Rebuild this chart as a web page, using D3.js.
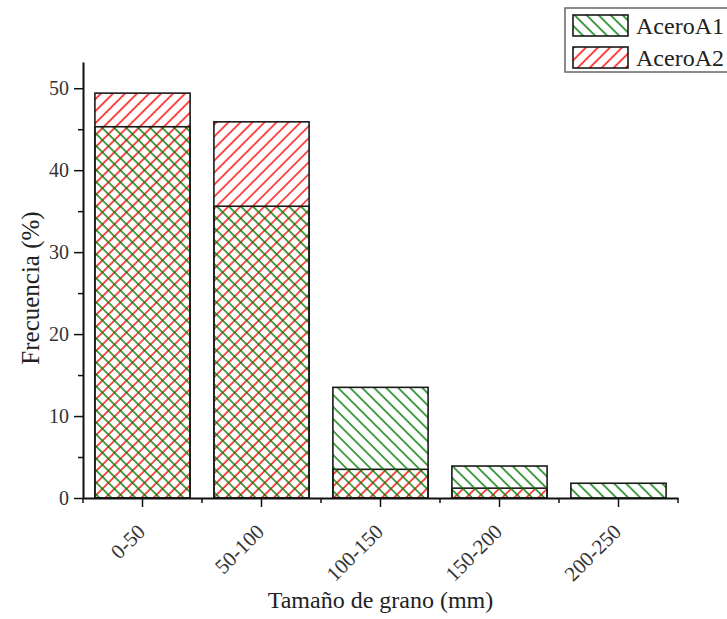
<!DOCTYPE html>
<html>
<head>
<meta charset="utf-8">
<script src="https://cdn.jsdelivr.net/npm/d3@7"></script>
</head>
<body style="margin:0; background:#fff">
<script>
    //data
    var categories = ["0-50", "50-100", "100-150", "150-200", "200-250"];
    var aceroA1 = [45.3, 35.6, 13.5, 3.9, 1.8];
    var aceroA2 = [49.4, 45.9, 3.5, 1.2, 0];
    var seriesNames = ["AceroA1", "AceroA2"];
    var yMajorTicks = [0, 10, 20, 30, 40, 50];
    var yMinorTicks = [5, 15, 25, 35, 45];

    var width = 727;
    var height = 619;
    var serif = "'Liberation Serif', serif";

    var margin = {
        left: 83,
        right: 49,
        top: 62,
        bottom: 121
    };
    var innerW = width - margin.left - margin.right;
    var innerH = height - margin.top - margin.bottom;

    //scales
    var xScale = d3.scaleBand()
        .domain(categories)
        .range([0, innerW])
        .paddingInner(0.2)
        .paddingOuter(0.1);

    var yScale = d3.scaleLinear()
        .domain([0, 53.2])
        .range([innerH, 0]);

    var svg = d3.select("body")
        .append("svg")
        .attr("width", width)
        .attr("height", height)
        .style("display", "block");

    //hatch patterns
    var defs = svg.append("defs");
    function hatch(id, color, angle) {
        var p = defs.append("pattern")
            .attr("id", id)
            .attr("patternUnits", "userSpaceOnUse")
            .attr("width", 8.5)
            .attr("height", 8.5)
            .attr("patternTransform", "rotate(" + angle + ")");
        p.append("line")
            .attr("x1", 1).attr("y1", -1)
            .attr("x2", 1).attr("y2", 9.5)
            .attr("stroke", color)
            .attr("stroke-width", 1.4);
    }
    hatch("hatchA1", "#007a00", -45);
    hatch("hatchA2", "#ff0000", 45);

    var chartGroup = svg.append("g")
        .attr("transform", "translate(" + margin.left + "," + margin.top + ")");

    //bars, both series overlaid in the same slot
    var series = [
        { name: "AceroA2", values: aceroA2, fill: "url(#hatchA2)" },
        { name: "AceroA1", values: aceroA1, fill: "url(#hatchA1)" }
    ];

    series.forEach(function (s) {
        chartGroup.append("g")
            .selectAll("rect")
            .data(s.values)
            .enter()
            .append("rect")
            .filter(function (d) { return d > 0; })
            .attr("x", function (d, i) { return xScale(categories[i]); })
            .attr("y", function (d) { return yScale(d); })
            .attr("width", xScale.bandwidth())
            .attr("height", function (d) { return innerH - yScale(d); })
            .attr("fill", s.fill)
            .attr("stroke", "#1a1a1a")
            .attr("stroke-width", 1.6);
    });

    //y axis
    var yAxis = d3.axisLeft(yScale)
        .tickValues(yMajorTicks)
        .tickSize(9)
        .tickPadding(5)
        .tickSizeOuter(0);

    var yG = chartGroup.append("g")
        .attr("class", "axis y")
        .call(yAxis);
    yG.selectAll("text")
        .style("font-family", serif)
        .style("font-size", "20px")
        .attr("fill", "#333");

    chartGroup.append("g")
        .call(d3.axisLeft(yScale).tickValues(yMinorTicks).tickSize(5).tickFormat("").tickSizeOuter(0))
        .select(".domain").remove();

    //x axis
    var xAxis = d3.axisBottom(xScale)
        .tickSize(9)
        .tickSizeOuter(0)
        .tickFormat("");

    var xG = chartGroup.append("g")
        .attr("class", "axis x")
        .attr("transform", "translate(0," + innerH + ")")
        .call(xAxis);

    //minor ticks at category boundaries
    var bounds = [0].concat(categories.map(function (c) {
        return xScale(c) + xScale.bandwidth() + xScale.step() * 0.1;
    }));
    xG.selectAll("line.minor")
        .data(bounds)
        .enter()
        .append("line")
        .attr("class", "minor")
        .attr("x1", function (d) { return d; })
        .attr("x2", function (d) { return d; })
        .attr("y1", 0)
        .attr("y2", 5)
        .attr("stroke", "#111");

    //rotated category labels
    chartGroup.append("g")
        .selectAll("text")
        .data(categories)
        .enter()
        .append("text")
        .attr("transform", function (d) {
            return "translate(" + (xScale(d) + xScale.bandwidth() / 2 + 4) + "," + (innerH + 35) + ") rotate(-45)";
        })
        .attr("text-anchor", "end")
        .style("font-family", serif)
        .style("font-size", "21px")
        .attr("fill", "#333")
        .text(function (d) { return d; });

    chartGroup.selectAll(".domain").attr("stroke", "#111").attr("stroke-width", 2);
    chartGroup.selectAll(".tick line").attr("stroke", "#111").attr("stroke-width", 1.5);
    xG.selectAll("line.minor").attr("stroke-width", 1.5);

    //axis titles
    svg.append("text")
        .attr("x", margin.left + innerW / 2)
        .attr("y", 608)
        .attr("text-anchor", "middle")
        .style("font-family", serif)
        .style("font-size", "24px")
        .attr("fill", "#222")
        .text("Tamaño de grano (mm)");

    svg.append("text")
        .attr("transform", "translate(39," + 288 + ") rotate(-90)")
        .attr("text-anchor", "middle")
        .style("font-family", serif)
        .style("font-size", "25px")
        .attr("fill", "#222")
        .text("Frecuencia (%)");

    //legend
    var legend = svg.append("g").attr("transform", "translate(565,8)");
    legend.append("rect")
        .attr("width", 170)
        .attr("height", 64)
        .attr("fill", "#fff")
        .attr("stroke", "#666")
        .attr("stroke-width", 1.5);

    var legendFills = ["url(#hatchA1)", "url(#hatchA2)"];
    var item = legend.selectAll("g.item")
        .data(seriesNames)
        .enter()
        .append("g")
        .attr("class", "item")
        .attr("transform", function (d, i) { return "translate(8," + (7 + i * 32) + ")"; });
    item.append("rect")
        .attr("width", 55)
        .attr("height", 21)
        .attr("fill", function (d, i) { return legendFills[i]; })
        .attr("stroke", "#1a1a1a")
        .attr("stroke-width", 1.6);
    item.append("text")
        .attr("x", 63)
        .attr("y", 19)
        .style("font-family", serif)
        .style("font-size", "24px")
        .attr("fill", "#222")
        .text(function (d) { return d; });
</script>
</body>
</html>
